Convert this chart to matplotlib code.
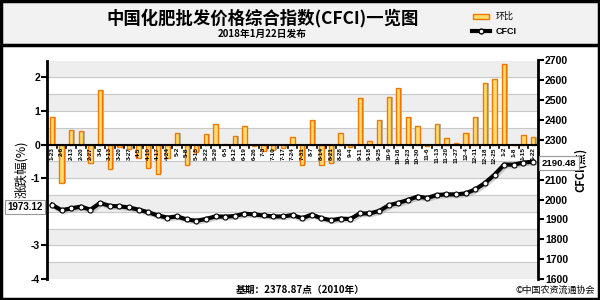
import numpy as np
import matplotlib
matplotlib.use('Agg')
import matplotlib.pyplot as plt
from matplotlib.patches import Rectangle
from matplotlib.lines import Line2D

plt.rcParams['font.family'] = ['Noto Sans CJK SC', 'DejaVu Sans']

# weekly release dates (2017-01-23 .. 2018-01-22)
dates = ['1-23', '2-6', '2-13', '2-20', '2-27', '3-6', '3-13', '3-20', '3-27', '4-5',
         '4-10', '4-17', '4-24', '5-2', '5-8', '5-15', '5-22', '5-29', '6-5', '6-12',
         '6-19', '6-26', '7-3', '7-10', '7-17', '7-24', '7-31', '8-7', '8-14', '8-21',
         '8-28', '9-4', '9-11', '9-18', '9-25', '10-9', '10-16', '10-23', '10-30', '11-6',
         '11-13', '11-20', '11-27', '12-4', '12-11', '12-18', '12-25', '1-2', '1-8', '1-15',
         '1-22']

# 环比 (%)
hb = [0.81, -1.13, 0.42, 0.39, -0.55, 1.63, -0.72, -0.08, -0.13, -0.41,
      -0.69, -0.88, -0.41, 0.33, -0.62, -0.22, 0.30, 0.62, 0.02, 0.25,
      0.56, -0.04, -0.20, -0.16, -0.09, 0.22, -0.62, 0.73, -0.61, -0.55,
      0.35, -0.07, 1.38, 0.11, 0.73, 1.40, 1.68, 0.81, 0.55, -0.05,
      0.60, 0.18, 0.06, 0.33, 0.81, 1.83, 1.95, 2.40, 0.0, 0.27,
      0.22]

# CFCI index
cfci = [1973.12, 1946, 1956, 1964, 1949, 1983, 1968, 1966, 1960, 1949,
        1936, 1920, 1909, 1915, 1900, 1893, 1902, 1915, 1914, 1917,
        1929, 1925, 1920, 1915, 1915, 1922, 1906, 1924, 1906, 1896,
        1904, 1902, 1930, 1930, 1942, 1971, 1983, 1998, 2015, 2008,
        2023, 2026, 2026, 2031, 2051, 2083, 2125, 2176, 2176, 2186,
        2190.48]

left_ticks = [-4, -3, -2, -1, 0, 1, 2]
right_ticks = list(range(1600, 2701, 100))

W, H = 600, 300
fig = plt.figure(figsize=(6, 3), dpi=100)
fig.patch.set_facecolor('white')

def fx(px): return px / W
def fy(py): return 1 - py / H

num_font = ['Liberation Sans', 'DejaVu Sans']

# header band + frame
fig.patches.append(Rectangle((0, fy(45)), 1, 45 / H, transform=fig.transFigure,
                             facecolor='#f2f2f2', edgecolor='none', zorder=0))
fig.lines.append(Line2D([0, 1], [fy(45), fy(45)], transform=fig.transFigure,
                        color='black', lw=2.5))
fig.patches.append(Rectangle((0.002, 0.004), 0.996, 0.993, transform=fig.transFigure,
                             facecolor='none', edgecolor='black', lw=2.5, zorder=10))

ax = fig.add_axes([fx(47), fy(279), fx(538 - 47), (279 - 60.5) / H])
x = np.arange(len(dates))
ax.set_xlim(-0.52, len(dates) - 0.48)
ax.set_ylim(-4, 2.5)

# alternating bands
for k in np.arange(-4, 2.5, 1.0):
    ax.axhspan(k, k + 0.5, color='#eeeeee', zorder=0, lw=0)
for g in np.arange(-3.5, 2.5, 0.5):
    ax.axhline(g, color='#c8c8c8', lw=0.8, zorder=0.5)

# bars with a small shadow
ax.bar(x + 0.18, hb, width=0.45, color='#b5b5b5', zorder=1, lw=0)
ax.bar(x, hb, width=0.45, color='#ffdc70', edgecolor='#f07800', lw=1.0, zorder=2)

ax.axhline(0, color='black', lw=1.5, zorder=3)
for i in x:
    ax.plot([i + 0.5, i + 0.5], [0, -0.1], color='black', lw=1.2, zorder=3)

for i, d in zip(x, dates):
    ax.text(i, -0.08, d, rotation=90, ha='center', va='top', fontsize=4.6,
            fontweight='bold', family=num_font, zorder=4)

ax.set_xticks([])
ax.set_yticks(left_ticks)
# "-2" sits under the first value box in the original
ax.set_yticklabels(['' if t == -2 else str(t) for t in left_ticks])
ax.tick_params(axis='y', direction='out', length=4, width=1.5, labelsize=7.5, pad=1)
for t in ax.get_yticklabels():
    t.set_fontweight('bold')
    t.set_family(num_font)
for s in ['top', 'bottom', 'right']:
    ax.spines[s].set_visible(False)
ax.spines['left'].set_linewidth(2)
ax.set_ylabel('涨跌幅(%)', fontsize=9, labelpad=2)

ax2 = ax.twinx()
ax2.set_ylim(1600, 2700)
ax2.set_yticks(right_ticks)
ax2.plot(x + 0.15, np.array(cfci) - 7, color='#999999', lw=3.5, alpha=0.45, zorder=1)
ax2.plot(x, cfci, color='black', lw=3, marker='o', ms=3.6, mfc='white', mec='black',
         mew=0.8, zorder=2)
ax2.tick_params(axis='y', direction='out', length=4, width=1.5, labelsize=7.5, pad=1)
for t in ax2.get_yticklabels():
    t.set_fontweight('bold')
    t.set_family(num_font)
for s in ['top', 'bottom', 'left']:
    ax2.spines[s].set_visible(False)
ax2.spines['right'].set_linewidth(2)
ax2.set_ylabel('CFCI(点)', fontsize=8, fontweight='bold', labelpad=4)

# value boxes
box = dict(boxstyle='square,pad=0.25', facecolor='white', edgecolor='#999999', lw=0.8)
fig.text(fx(25), fy(207), '%.2f' % cfci[0], ha='center', va='center', fontsize=7,
         fontweight='bold', family=num_font, bbox=box, zorder=20)
fig.text(fx(559), fy(163), '%.2f' % cfci[-1], ha='center', va='center', fontsize=6.8,
         fontweight='bold', family=num_font, bbox=box, zorder=20)

# titles
fig.text(fx(263), fy(18), '中国化肥批发价格综合指数(CFCI)一览图', ha='center', va='center',
         fontsize=12.5, fontweight='bold')
fig.text(fx(262), fy(34), '2018年1月22日发布', ha='center', va='center',
         fontsize=7, fontweight='bold')

# legend
fig.patches.append(Rectangle((fx(473), fy(19)), fx(16), 5 / H, transform=fig.transFigure,
                             facecolor='#ffdc70', edgecolor='#f07800', lw=1.0))
fig.text(fx(496), fy(16), '环比', ha='left', va='center', fontsize=6.5)
fig.lines.append(Line2D([fx(472), fx(490)], [fy(31), fy(31)], transform=fig.transFigure,
                        color='black', lw=3))
fig.lines.append(Line2D([fx(481)], [fy(31)], transform=fig.transFigure, color='black',
                        marker='o', ms=3.5, mfc='white', mec='black', lw=0))
fig.text(fx(496), fy(31), 'CFCI', ha='left', va='center', fontsize=6.5, fontweight='bold',
         family=num_font)

# footer
fig.text(fx(300), fy(290), '基期：2378.87点（2010年）', ha='center', va='center',
         fontsize=7, fontweight='bold')
fig.text(fx(595), fy(290), '©中国农资流通协会', ha='right', va='center', fontsize=6.5)

fig.savefig('out.png', dpi=100)
